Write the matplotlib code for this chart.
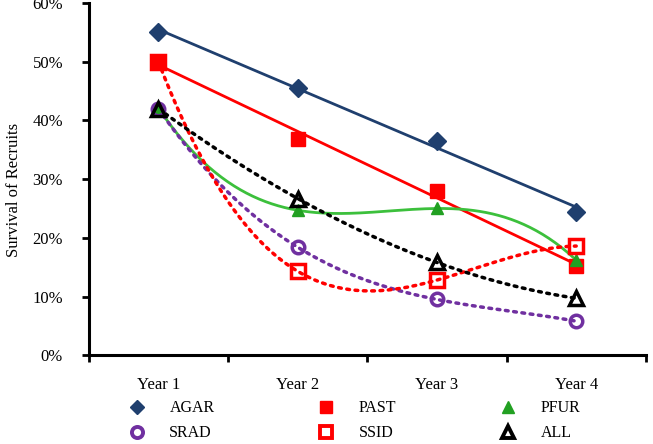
import numpy as np
import matplotlib.pyplot as plt
from matplotlib.ticker import FuncFormatter, FixedLocator
from matplotlib.lines import Line2D

plt.rcParams['font.family'] = ['Liberation Serif', 'DejaVu Serif']

years = ['Year 1', 'Year 2', 'Year 3', 'Year 4']
x = np.array([1, 2, 3, 4])

# survival (%) per year
agar = [55.0, 45.6, 36.5, 24.4]
past = [50.0, 36.8, 27.9, 15.2]
pfur = [42.1, 24.7, 25.0, 16.2]
srad = [42.0, 18.4, 9.5, 5.8]
ssid = [50.0, 14.3, 12.8, 18.6]
all_ = [42.0, 26.7, 15.8, 9.7]

navy = '#1F3F6E'
red = '#FF0000'
green = '#22A022'
lightgreen = '#3CC03C'
purple = '#7030A0'

fig = plt.figure(figsize=(6.53, 4.44), dpi=100)
ax = fig.add_axes([0.136, 0.2, 0.853, 0.793])

xs = np.linspace(1, 4, 200)

def trend(vals, deg):
    return np.polyval(np.polyfit(x, vals, deg), xs)

dots = (0, (0.8, 1.6))

# trend lines
ax.plot(xs, trend(agar, 1), color=navy, lw=2, zorder=2)
ax.plot(xs, trend(past, 1), color=red, lw=2, zorder=2)
ax.plot(xs, trend(pfur, 3), color=lightgreen, lw=2, zorder=2)
ax.plot(xs, trend(srad, 3), color=purple, lw=2.5, ls=dots, dash_capstyle='round', zorder=2)
ax.plot(xs, trend(ssid, 3), color=red, lw=2.5, ls=dots, dash_capstyle='round', zorder=2)
ax.plot(xs, trend(all_, 3), color='black', lw=2.5, ls=dots, dash_capstyle='round', zorder=2)

# markers
ax.plot(x, agar, 'D', color=navy, ms=9, ls='none', zorder=3)
ax.plot(x, past, 's', color=red, ms=10.5, ls='none', zorder=3)
ax.plot(x, pfur, '^', color=green, ms=9, ls='none', zorder=3)
ax.plot(x, srad, 'o', mfc='none', mec=purple, mew=2.5, ms=9, ls='none', zorder=4)
ax.plot(x, ssid, 's', mfc='none', mec=red, mew=2.5, ms=10, ls='none', zorder=4)
ax.plot(x, all_, '^', mfc='none', mec='black', mew=2.5, ms=10, ls='none', zorder=5)

ax.set_xlim(0.5, 4.5)
ax.set_ylim(0, 60)
ax.set_xticks(x)
ax.set_xticklabels(years, fontsize=12)
ax.xaxis.set_minor_locator(FixedLocator([0.5, 1.5, 2.5, 3.5, 4.5]))
ax.tick_params(axis='x', which='major', length=0, pad=16)
ax.tick_params(axis='x', which='minor', length=5, width=2, direction='out')
ax.set_yticks(range(0, 61, 10))
ax.yaxis.set_major_formatter(FuncFormatter(lambda v, p: f'{int(v)}%'))
ax.tick_params(axis='y', length=5, width=2, labelsize=12, pad=13.5)
ax.set_ylabel('Survival of Recruits', fontsize=12)
ax.yaxis.set_label_coords(-0.12, 0.469)

for s in ['top', 'right']:
    ax.spines[s].set_visible(False)
for s in ['left', 'bottom']:
    ax.spines[s].set_linewidth(2.2)

handles = [
    Line2D([], [], marker='D', color=navy, ls='none', ms=7, label='AGAR'),
    Line2D([], [], marker='o', mfc='none', mec=purple, mew=2.8, ls='none', ms=8, label='SRAD'),
    Line2D([], [], marker='s', color=red, ls='none', ms=9, label='PAST'),
    Line2D([], [], marker='s', mfc='none', mec=red, mew=2.8, ls='none', ms=8.5, label='SSID'),
    Line2D([], [], marker='^', color=green, ls='none', ms=9, label='PFUR'),
    Line2D([], [], marker='^', mfc='none', mec='black', mew=2.8, ls='none', ms=9, label='ALL'),
]
fig.legend(handles=handles, ncol=3, loc='upper left', bbox_to_anchor=(0.197, 0.098),
           frameon=False, fontsize=11.5, handlelength=1, handletextpad=1.55,
           columnspacing=6.5, labelspacing=0.55, borderaxespad=0, borderpad=0)

fig.savefig('out.png', dpi=100)
